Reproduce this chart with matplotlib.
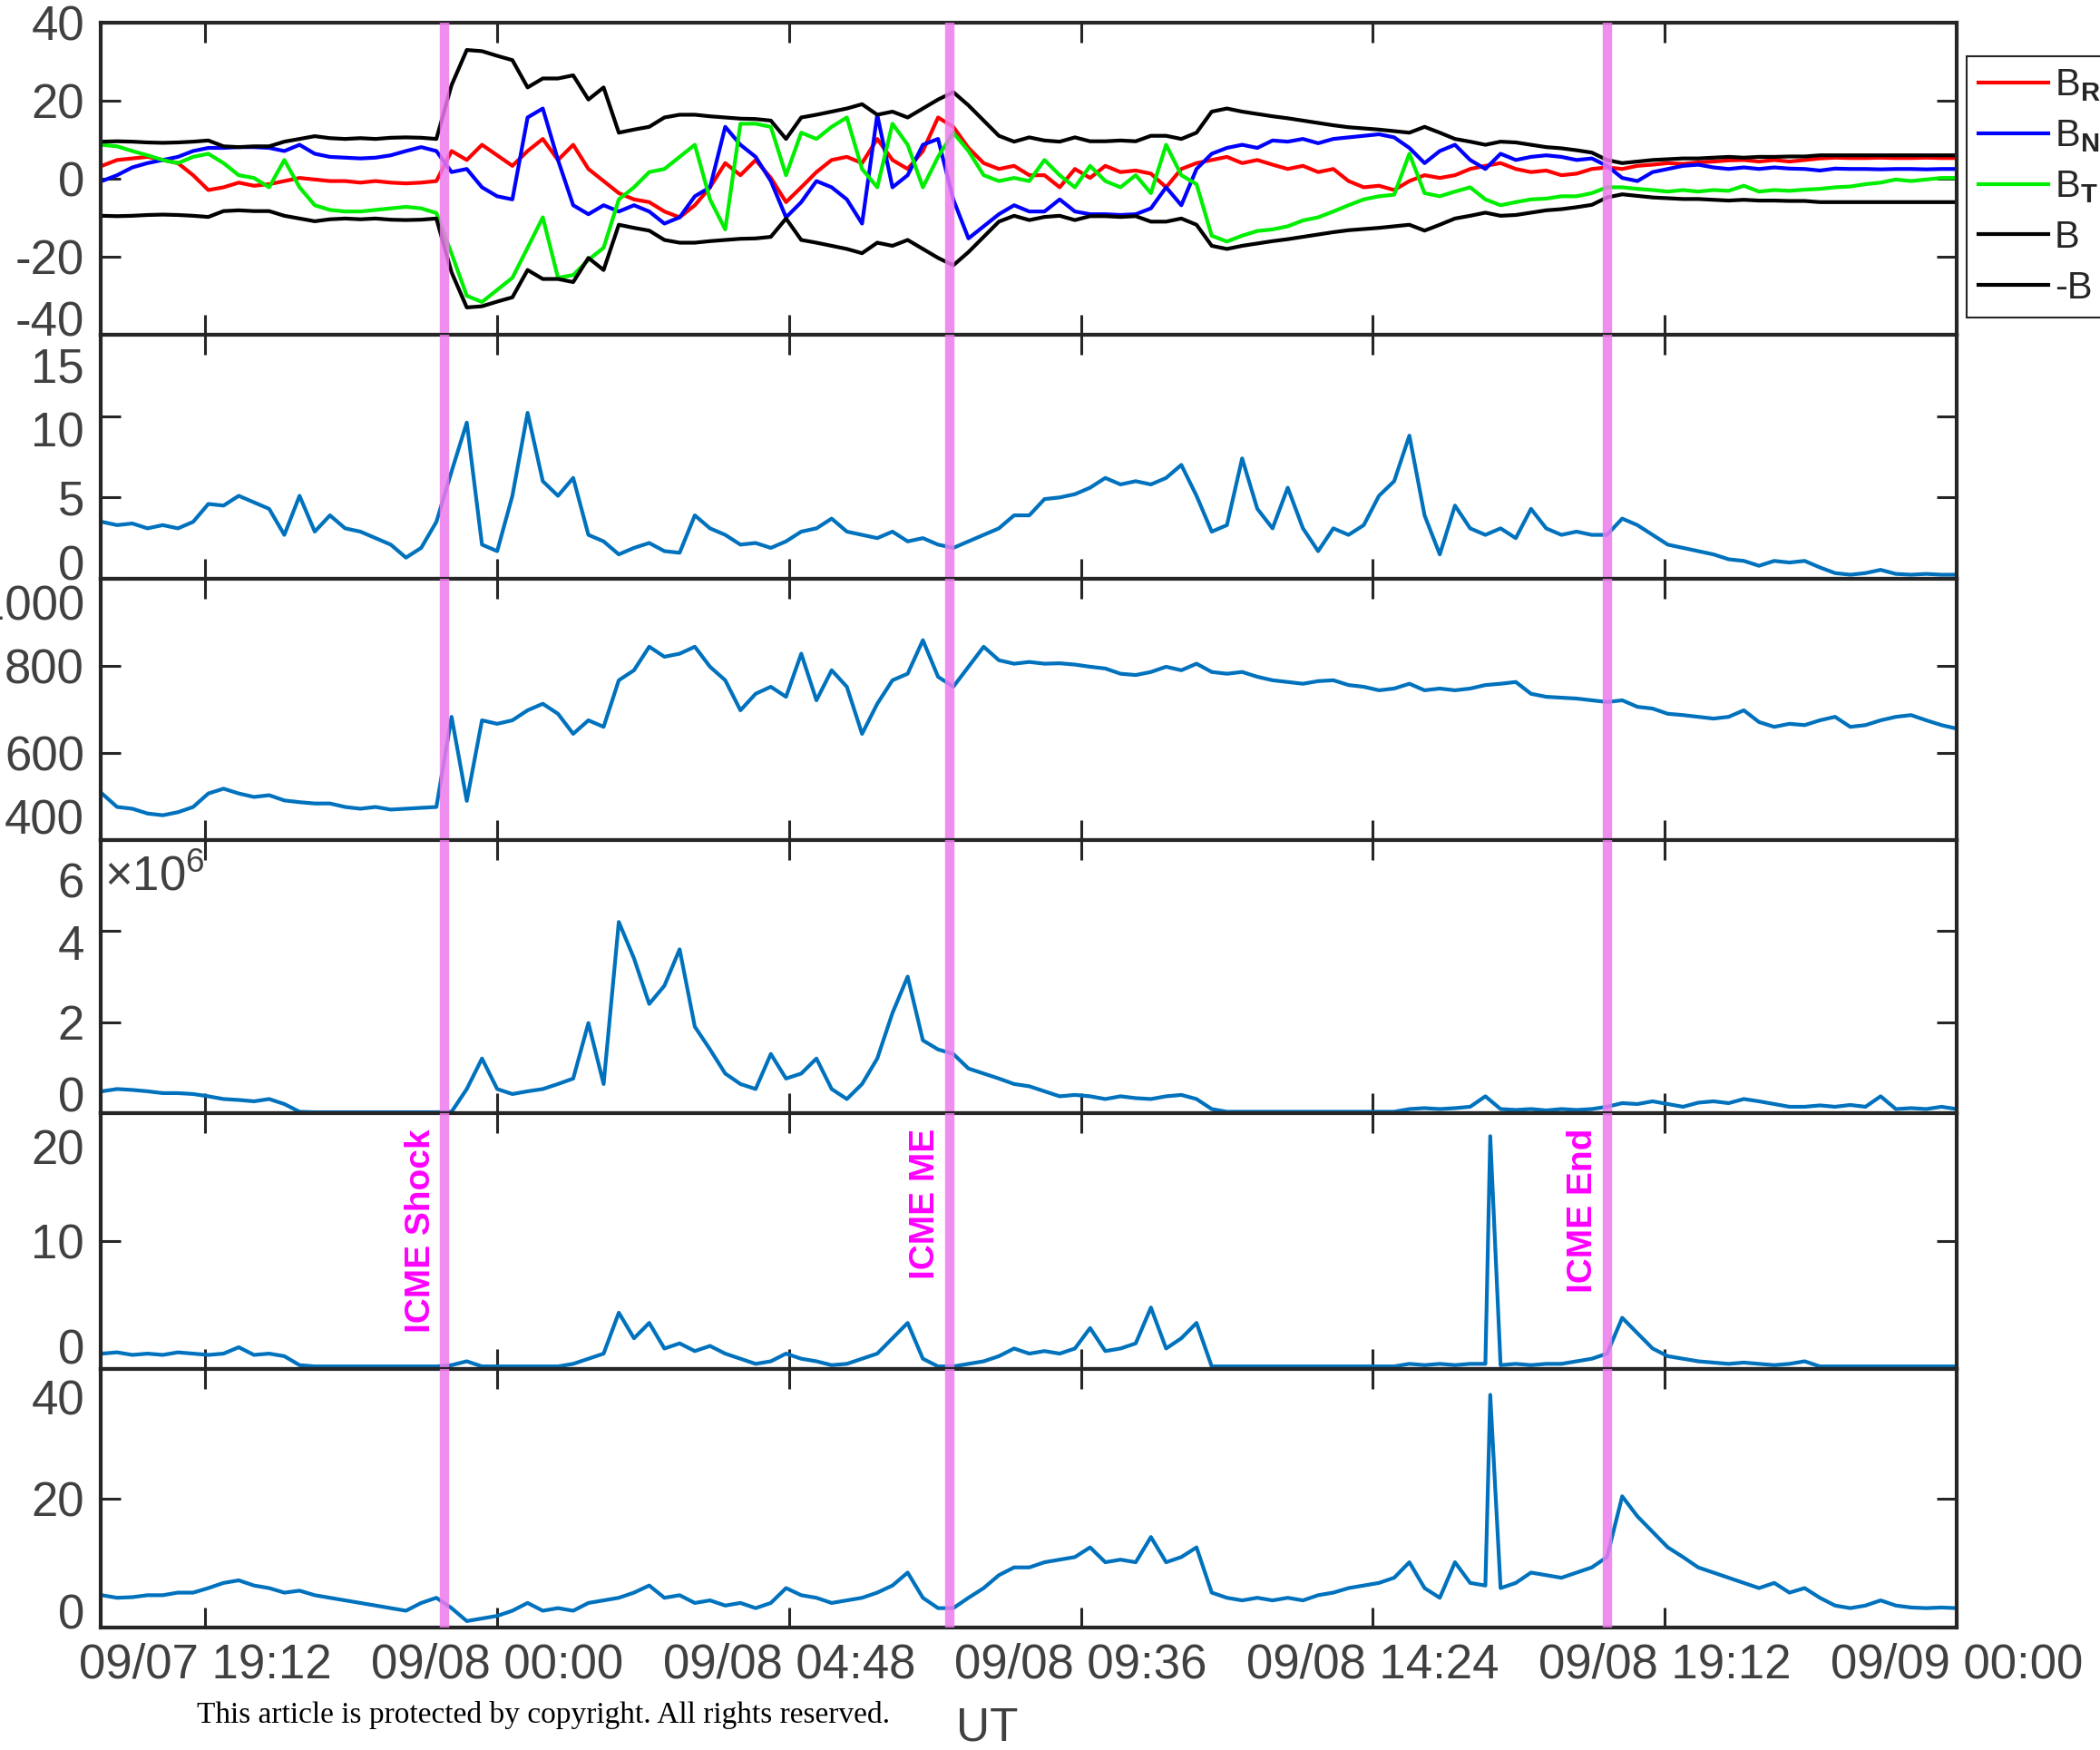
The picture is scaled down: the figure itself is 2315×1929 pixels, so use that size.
import numpy as np
import matplotlib
import matplotlib.pyplot as plt
import matplotlib.dates as mdates
import matplotlib.transforms as mtransforms
from matplotlib import font_manager
from datetime import datetime, timedelta

plt.rcParams['font.family'] = ['Liberation Sans', 'DejaVu Sans']
plt.rcParams['axes.unicode_minus'] = False
plt.rcParams['mathtext.fontset'] = 'custom'
plt.rcParams['mathtext.rm'] = 'Liberation Sans'
plt.rcParams['mathtext.bf'] = 'Liberation Sans:bold'

# sample times, hours after 09/07 00:00 UT (15 min spacing)
hours = np.arange(17.5, 48.01, 0.25)

# panel 1: magnetic field components (nT)
b_tot = [9.5, 9.6, 9.5, 9.3, 9.2, 9.3, 9.5, 9.8, 8.3, 8.1,
         8.3, 8.3, 9.5, 10.2, 10.9, 10.4, 10.2, 10.4, 10.2, 10.5,
         10.6, 10.5, 10.2, 24.0, 33.0, 32.7, 31.5, 30.4, 23.4, 25.7,
         25.7, 26.5, 20.3, 23.4, 11.8, 12.6, 13.3, 15.7, 16.4, 16.4,
         16.0, 15.7, 15.4, 15.3, 14.9, 10.2, 15.7, 16.4, 17.2, 18.0,
         19.1, 16.4, 17.2, 15.7, 18.0, 20.3, 22.2, 18.8, 14.9, 11.0,
         9.5, 10.6, 9.8, 9.5, 10.6, 9.6, 9.6, 9.8, 9.6, 11.0,
         11.0, 10.2, 11.8, 17.2, 18.0, 17.2, 16.6, 16.0, 15.5, 14.9,
         14.3, 13.7, 13.2, 12.9, 12.6, 12.2, 11.8, 13.3, 11.8, 10.2,
         9.5, 8.7, 9.5, 9.3, 8.7, 8.1, 7.8, 7.3, 6.7, 4.8,
         4.0, 4.4, 4.8, 5.0, 5.2, 5.2, 5.4, 5.6, 5.4, 5.6,
         5.6, 5.7, 5.7, 6.0, 6.0, 6.0, 6.0, 6.0, 6.0, 6.0,
         6.0, 6.0, 6.0]
b_r = [3.3, 4.8, 5.2, 5.6, 4.8, 4.0, 0.9, -2.9, -2.2, -1.0,
       -1.8, -1.4, -0.6, 0.2, -0.2, -0.6, -0.6, -1.0, -0.6, -1.0,
       -1.2, -1.0, -0.6, 7.1, 4.8, 8.7, 6.0, 3.3, 7.1, 10.2,
       4.8, 8.7, 2.5, -0.6, -3.7, -5.3, -6.0, -8.4, -9.9, -6.8,
       -2.2, 4.0, 0.9, 4.8, 0.2, -6.0, -2.2, 1.7, 4.8, 5.6,
       4.0, 10.2, 4.8, 2.5, 7.1, 15.7, 13.3, 7.9, 4.0, 2.5,
       3.3, 0.9, 0.9, -2.2, 2.5, 0.2, 3.3, 1.7, 2.1, 1.3,
       -2.2, 2.5, 4.0, 4.8, 5.6, 4.0, 4.8, 3.6, 2.5, 3.3,
       1.7, 2.5, -0.6, -2.2, -1.8, -2.9, -0.6, 0.9, 0.2, 0.9,
       2.5, 3.3, 4.0, 2.5, 1.7, 2.1, 0.9, 1.3, 2.5, 2.9,
       2.5, 3.3, 3.6, 4.0, 3.8, 4.2, 4.4, 4.7, 4.8, 4.4,
       4.8, 4.4, 4.8, 5.2, 5.4, 5.3, 5.3, 5.4, 5.3, 5.3,
       5.4, 5.3, 5.3]
b_n = [-0.6, 0.9, 2.9, 4.0, 4.8, 5.6, 7.1, 7.9, 7.9, 8.1,
       8.1, 7.9, 7.1, 8.7, 6.4, 5.6, 5.4, 5.2, 5.4, 6.0,
       7.1, 8.1, 7.1, 1.7, 2.5, -2.2, -4.5, -5.3, 15.7, 18.0,
       4.8, -6.8, -9.1, -6.8, -8.4, -6.8, -8.4, -11.5, -9.9, -4.5,
       -2.2, 13.3, 8.7, 5.6, -0.6, -9.9, -6.0, -0.6, -2.2, -5.3,
       -11.5, 16.4, -2.2, 0.9, 8.7, 10.2, -5.3, -15.3, -12.2, -9.1,
       -6.8, -8.4, -8.4, -5.3, -8.4, -9.1, -9.1, -9.3, -9.1, -7.6,
       -2.2, -6.8, 2.5, 6.4, 7.9, 8.7, 7.9, 9.8, 9.5, 10.2,
       9.1, 10.2, 10.6, 11.0, 11.4, 10.6, 7.9, 4.0, 7.1, 8.7,
       4.8, 2.5, 6.4, 4.8, 5.6, 6.0, 5.6, 4.8, 5.2, 3.3,
       0.2, -0.6, 1.7, 2.5, 3.3, 3.6, 2.9, 2.5, 2.9, 2.5,
       2.9, 2.6, 2.5, 2.1, 2.6, 2.5, 2.5, 2.4, 2.5, 2.5,
       2.4, 2.5, 2.5]
b_t = [8.7, 8.3, 7.1, 6.0, 4.8, 4.0, 5.6, 6.4, 4.0, 0.9,
       0.2, -2.2, 4.8, -2.2, -6.8, -8.0, -8.4, -8.4, -8.0, -7.6,
       -7.2, -7.6, -8.8, -19.2, -30.0, -31.6, -28.5, -25.4, -17.7, -9.9,
       -25.4, -24.7, -20.8, -17.7, -5.3, -2.2, 1.7, 2.5, 5.6, 8.7,
       -5.3, -13.0, 14.1, 14.1, 13.3, 0.9, 11.8, 10.2, 13.3, 15.7,
       2.5, -2.2, 14.1, 8.7, -2.2, 5.6, 11.8, 7.1, 0.9, -0.6,
       0.2, -0.6, 4.8, 0.9, -2.2, 3.3, -0.6, -2.2, 0.9, -3.7,
       8.7, 0.9, -1.4, -14.6, -16.1, -14.6, -13.4, -13.0, -12.2, -10.7,
       -9.9, -8.4, -6.8, -5.3, -4.5, -4.1, 6.4, -3.7, -4.5, -3.3,
       -2.2, -5.3, -6.8, -6.0, -5.3, -5.1, -4.5, -4.5, -3.7, -2.2,
       -2.2, -2.6, -2.9, -3.3, -2.9, -3.3, -2.9, -3.1, -1.8, -3.3,
       -2.9, -3.1, -2.8, -2.6, -2.2, -2.0, -1.4, -1.0, -0.2, -0.6,
       -0.2, 0.2, 0.2]

# panel 2
p2 = [3.5, 3.3, 3.4, 3.1, 3.3, 3.1, 3.5, 4.6, 4.5, 5.1,
      4.7, 4.3, 2.7, 5.1, 2.9, 3.9, 3.1, 2.9, 2.5, 2.1,
      1.3, 1.9, 3.5, 6.6, 9.6, 2.1, 1.7, 5.1, 10.2, 6.0,
      5.1, 6.2, 2.7, 2.3, 1.5, 1.9, 2.2, 1.7, 1.6, 3.9,
      3.1, 2.7, 2.1, 2.2, 1.9, 2.3, 2.9, 3.1, 3.7, 2.9,
      2.7, 2.5, 2.9, 2.3, 2.5, 2.1, 1.9, 2.3, 2.7, 3.1,
      3.9, 3.9, 4.9, 5.0, 5.2, 5.6, 6.2, 5.8, 6.0, 5.8,
      6.2, 7.0, 5.1, 2.9, 3.3, 7.4, 4.3, 3.1, 5.6, 3.1,
      1.7, 3.1, 2.7, 3.3, 5.1, 6.0, 8.8, 3.9, 1.5, 4.5,
      3.1, 2.7, 3.1, 2.5, 4.3, 3.1, 2.7, 2.9, 2.7, 2.7,
      3.7, 3.3, 2.7, 2.1, 1.9, 1.7, 1.5, 1.2, 1.1, 0.8,
      1.1, 1.0, 1.1, 0.7, 0.35, 0.25, 0.35, 0.55, 0.3, 0.25,
      0.3, 0.25, 0.25]

# panel 3
p3 = [507, 476, 472, 461, 457, 464, 476, 507, 518, 507,
      499, 503, 491, 487, 484, 484, 476, 472, 476, 470,
      472, 474, 476, 683, 490, 675, 667, 675, 698, 713,
      690, 644, 675, 660, 767, 790, 844, 821, 828, 844,
      798, 767, 698, 736, 752, 729, 828, 721, 790, 752,
      644, 713, 767, 782, 859, 775, 752, 798, 844, 813,
      805, 809, 805, 806, 803, 798, 794, 782, 779, 786,
      798, 790, 805, 786, 782, 786, 775, 767, 763, 759,
      765, 767, 756, 752, 744, 748, 759, 744, 748, 744,
      748, 756, 759, 763, 736, 729, 727, 725, 721, 717,
      721, 706, 702, 690, 687, 683, 679, 683, 698, 671,
      660, 667, 664, 675, 683, 660, 664, 675, 683, 687,
      675, 664, 656]

# panel 4 (x 10^6)
p4 = [0.48, 0.53, 0.51, 0.48, 0.44, 0.44, 0.42, 0.37, 0.31, 0.29,
      0.26, 0.31, 0.20, 0.03, 0.02, 0.02, 0.02, 0.02, 0.02, 0.02,
      0.02, 0.02, 0.02, 0.03, 0.53, 1.2, 0.53, 0.42, 0.48, 0.53,
      0.64, 0.76, 1.98, 0.64, 4.2, 3.4, 2.4, 2.8, 3.6, 1.9,
      1.4, 0.87, 0.64, 0.53, 1.3, 0.76, 0.87, 1.2, 0.53, 0.31,
      0.64, 1.2, 2.2, 3.0, 1.6, 1.4, 1.3, 0.98, 0.87, 0.76,
      0.64, 0.59, 0.48, 0.37, 0.40, 0.37, 0.31, 0.37, 0.33, 0.31,
      0.37, 0.40, 0.31, 0.09, 0.03, 0.03, 0.03, 0.03, 0.03, 0.03,
      0.03, 0.03, 0.03, 0.03, 0.03, 0.03, 0.09, 0.11, 0.09, 0.11,
      0.14, 0.37, 0.09, 0.07, 0.09, 0.06, 0.09, 0.07, 0.09, 0.14,
      0.22, 0.20, 0.26, 0.20, 0.14, 0.23, 0.26, 0.22, 0.31, 0.26,
      0.20, 0.14, 0.14, 0.17, 0.14, 0.18, 0.14, 0.37, 0.09, 0.11,
      0.09, 0.14, 0.09]

# panel 5
p5 = [1.2, 1.3, 1.1, 1.2, 1.1, 1.3, 1.2, 1.1, 1.2, 1.7,
      1.1, 1.2, 1.0, 0.3, 0.2, 0.2, 0.2, 0.2, 0.2, 0.2,
      0.2, 0.2, 0.2, 0.3, 0.6, 0.2, 0.2, 0.2, 0.2, 0.2,
      0.2, 0.4, 0.8, 1.2, 4.4, 2.4, 3.6, 1.6, 2.0, 1.4,
      1.8, 1.2, 0.8, 0.4, 0.6, 1.2, 0.8, 0.6, 0.3, 0.4,
      0.8, 1.2, 2.4, 3.6, 0.8, 0.2, 0.2, 0.4, 0.6, 1.0,
      1.6, 1.2, 1.4, 1.2, 1.6, 3.2, 1.4, 1.6, 2.0, 4.8,
      1.6, 2.4, 3.6, 0.2, 0.2, 0.2, 0.2, 0.2, 0.2, 0.2,
      0.2, 0.2, 0.2, 0.2, 0.2, 0.2, 0.4, 0.3, 0.4, 0.3,
      0.4, 0.4, 0.3, 0.4, 0.3, 0.4, 0.4, 0.6, 0.8, 1.2,
      4.0, 2.8, 1.6, 1.0, 0.8, 0.6, 0.5, 0.4, 0.5, 0.4,
      0.3, 0.4, 0.6, 0.2, 0.2, 0.2, 0.2, 0.2, 0.2, 0.2,
      0.2, 0.2, 0.2]

# panel 6
p6 = [5.0, 4.6, 4.7, 5.0, 5.0, 5.4, 5.4, 6.1, 6.9, 7.3,
      6.5, 6.1, 5.4, 5.7, 5.0, 4.6, 4.2, 3.8, 3.4, 3.0,
      2.6, 3.8, 4.6, 3.0, 1.0, 1.4, 1.8, 2.6, 3.8, 2.6,
      3.0, 2.6, 3.8, 4.2, 4.6, 5.4, 6.5, 4.6, 5.0, 3.8,
      4.2, 3.4, 3.8, 3.0, 3.8, 6.1, 5.0, 4.6, 3.8, 4.2,
      4.6, 5.4, 6.5, 8.5, 4.6, 3.0, 3.0, 4.6, 6.1, 8.1,
      9.3, 9.3, 10.1, 10.5, 10.9, 12.4, 10.1, 10.5, 10.1, 14.0,
      10.1, 10.9, 12.4, 5.4, 4.6, 4.2, 4.6, 4.2, 4.6, 4.2,
      5.0, 5.4, 6.1, 6.5, 6.9, 7.7, 10.1, 6.1, 4.6, 10.1,
      6.9, 6.5, 6.1, 6.9, 8.5, 8.1, 7.7, 8.5, 9.3, 10.9,
      20.3, 17.2, 14.8, 12.4, 10.9, 9.3, 8.5, 7.7, 6.9, 6.1,
      6.9, 5.4, 6.1, 4.6, 3.4, 3.0, 3.4, 4.2, 3.4, 3.1,
      3.0, 3.1, 3.0]

# narrow spike seen in panels 5 and 6
spike_h = 40.33
spike_p5 = 18.2
spike_p6 = 36.0

# event times (hours) and labels
event_h = [23.14, 31.44, 42.25]
event_lbl = ['ICME Shock', 'ICME ME', 'ICME End']

xtick_h = [19.2, 24.0, 28.8, 33.6, 38.4, 43.2, 48.0]

t0 = datetime(2017, 9, 7)


def to_time(h):
    return [t0 + timedelta(hours=float(x)) for x in np.atleast_1d(h)]


names = {f.name for f in font_manager.fontManager.ttflist}
narrow = 'Liberation Sans Narrow' in names
xfont = 'Liberation Sans Narrow' if narrow else 'Liberation Sans'
xsize = 44 if narrow else 38
ev_size = 33 if narrow else 28

blue = '#0072BD'
grey = '#404040'
dark = '#262626'
violet = '#EE7AEE'

W, H = 2315, 1929
fig = plt.figure(figsize=(W / 100, H / 100), dpi=100)

edges = [25, 369, 638, 926, 1227, 1509, 1794]
left, right = 111, 2157
axes = []
for k in range(6):
    ax = fig.add_axes([left / W, 1 - edges[k + 1] / H,
                       (right - left) / W, (edges[k + 1] - edges[k]) / H])
    axes.append(ax)

t = to_time(hours)
idx = np.searchsorted(hours, spike_h)
h56 = np.insert(hours, idx, spike_h)
t56 = to_time(h56)
p5s = np.insert(np.array(p5, float), idx, spike_p5)
p6s = np.insert(np.array(p6, float), idx, spike_p6)

lw = 3.0
ax1, ax2, ax3, ax4, ax5, ax6 = axes
l_r, = ax1.plot(t, b_r, color='#FF0000', lw=lw)
l_n, = ax1.plot(t, b_n, color='#0000FF', lw=lw)
l_t, = ax1.plot(t, b_t, color='#00EE00', lw=lw)
l_b, = ax1.plot(t, b_tot, color='black', lw=lw)
l_mb, = ax1.plot(t, -np.array(b_tot), color='black', lw=lw)

ax2.plot(t, p2, color=blue, lw=lw)
ax3.plot(t, p3, color=blue, lw=lw)
ax4.plot(t, p4, color=blue, lw=lw)
ax5.plot(t56, p5s, color=blue, lw=lw)
ax6.plot(t56, p6s, color=blue, lw=lw)

ylims = [(-40, 40), (0, 15), (400, 1000), (0, 6), (0, 20), (0, 40)]
yticks = [[-40, -20, 0, 20, 40], [0, 5, 10, 15], [400, 600, 800, 1000],
          [0, 2, 4, 6], [0, 10, 20], [0, 20, 40]]
# vertical shifts (points) of each tick label, as seen in the figure
shifts = [[13, 0, 0, 0, 0], [13, 0, -10, -24], [19, 0, 0, -19],
          [15, 0, -9, -32], [18, 0, -27], [13, 0, -22]]

for k, ax in enumerate(axes):
    for h in event_h:
        ax.axvline(to_time(h)[0], color=violet, lw=7.5, alpha=0.85, zorder=4)
    ax.set_xlim(to_time(17.48)[0], to_time(48.0)[0])
    ax.set_ylim(*ylims[k])
    ax.set_xticks(to_time(xtick_h))
    ax.xaxis.set_major_formatter(mdates.DateFormatter('%m/%d %H:%M'))
    ax.set_yticks(yticks[k])
    ax.tick_params(direction='in', length=16, width=2.2, color=dark,
                   top=True, right=True, labelsize=38, labelcolor=grey, pad=13)
    ax.tick_params(axis='x', pad=12)
    for s in ax.spines.values():
        s.set_linewidth(3)
        s.set_color(dark)
    if k < 5:
        ax.tick_params(labelbottom=False)
    for lab, dy in zip(ax.get_yticklabels(), shifts[k]):
        if dy:
            lab.set_transform(lab.get_transform() +
                              mtransforms.ScaledTranslation(0, dy / 72, fig.dpi_scale_trans))

for lab in ax6.get_xticklabels():
    lab.set_fontfamily(xfont)
    lab.set_fontsize(xsize)

ax4.text(0.002, 0.864, '×10$^{6}$', transform=ax4.transAxes, ha='left',
         va='center', fontsize=38, color=grey)

trans5 = mtransforms.blended_transform_factory(ax5.transData, ax5.transAxes)
for h, lbl in zip(event_h, event_lbl):
    ax5.text(to_time(h - 0.13)[0], 0.94, lbl, transform=trans5, rotation=90,
             ha='right', va='top', color='#FF00FF', fontweight='bold',
             fontsize=ev_size, family=xfont, zorder=5)

leg = fig.legend([l_r, l_n, l_t, l_b, l_mb],
                 [r'B$_{\mathbf{R}}$', r'B$_{\mathbf{N}}$', r'B$_{\mathbf{T}}$', 'B', '-B'],
                 loc='upper left', bbox_to_anchor=(2168 / W, 1 - 62 / H),
                 bbox_transform=fig.transFigure, fontsize=30, frameon=True,
                 fancybox=False, edgecolor=dark, framealpha=1, borderpad=0.3,
                 borderaxespad=0, handlelength=1.85, handletextpad=0.17,
                 labelspacing=0.38)
leg.get_frame().set_linewidth(1.5)
for txt in leg.get_texts():
    txt.set_color(dark)

fig.text(1088 / W, 1 - 1905 / H, 'UT', ha='center', va='center',
         fontsize=37, color=grey)
fig.text(599 / W, 1 - 1890 / H,
         'This article is protected by copyright. All rights reserved.',
         ha='center', va='center', fontsize=24, family='Liberation Serif',
         color='black')

fig.savefig('out.png', dpi=100)
